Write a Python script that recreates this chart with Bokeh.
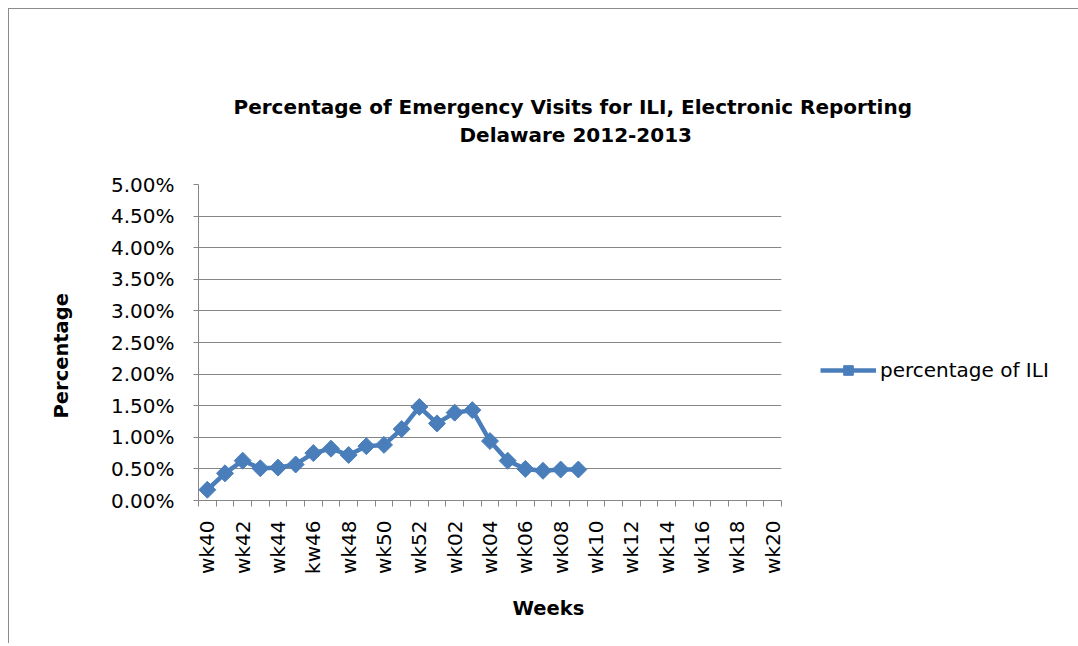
import numpy as np
from bokeh.plotting import figure
from bokeh.models import (FixedTicker, PrintfTickFormatter, Title, Legend, LegendItem,
                          Range1d, ColumnDataSource)
from bokeh.embed import file_html
from bokeh.resources import INLINE

# ---------------- data ----------------
weeks = ["wk40", "wk41", "wk42", "wk43", "wk44", "wk45", "wk46", "wk47", "wk48", "wk49",
         "wk50", "wk51", "wk52", "wk01", "wk02", "wk03", "wk04", "wk05", "wk06", "wk07",
         "wk08", "wk09", "wk10", "wk11", "wk12", "wk13", "wk14", "wk15", "wk16", "wk17",
         "wk18", "wk19", "wk20"]
tick_labels = ["wk40", "wk42", "wk44", "kw46", "wk48", "wk50", "wk52", "wk02", "wk04",
               "wk06", "wk08", "wk10", "wk12", "wk14", "wk16", "wk18", "wk20"]
series_weeks = ["wk40", "wk41", "wk42", "wk43", "wk44", "wk45", "wk46", "wk47", "wk48",
                "wk49", "wk50", "wk51", "wk52", "wk01", "wk02", "wk03", "wk04", "wk05",
                "wk06", "wk07", "wk08", "wk09"]
ili_pct = [0.17, 0.43, 0.63, 0.51, 0.52, 0.57, 0.75, 0.82, 0.72, 0.86, 0.88,
           1.13, 1.48, 1.22, 1.39, 1.43, 0.94, 0.63, 0.50, 0.47, 0.49, 0.49]
y_ticks = [0.0, 0.5, 1.0, 1.5, 2.0, 2.5, 3.0, 3.5, 4.0, 4.5, 5.0]
title_lines = ["Percentage of Emergency Visits for ILI, Electronic Reporting",
               "Delaware 2012-2013"]
x_title = "Weeks"
y_title = "Percentage"
series_name = "percentage of ILI"

# ---------------- styling ----------------
BLUE = "#4A7EBB"
GRAY = "#868686"
FONT = "DejaVu Sans"

x_pos = [weeks.index(w) + 0.5 for w in series_weeks]
src = ColumnDataSource(dict(x=x_pos, y=ili_pct))

p = figure(frame_width=583, frame_height=316, output_backend="svg", toolbar_location=None,
           x_range=Range1d(0, len(weeks)), y_range=Range1d(0, 5.0),
           min_border_left=189, min_border_top=175, min_border_right=294, min_border_bottom=143,
           title=None)
p.outline_line_color = None
p.background_fill_color = "white"
p.border_fill_color = "white"
p.styles = {"margin-left": "8px", "margin-top": "8px",
            "border-left": "1px solid #8c8c8c", "border-top": "1px solid #8c8c8c"}

# grid
p.xgrid.visible = False
p.ygrid.ticker = FixedTicker(ticks=y_ticks)
p.ygrid.grid_line_color = GRAY
p.ygrid.grid_line_width = 1

# y axis
ya = p.yaxis[0]
ya.ticker = FixedTicker(ticks=y_ticks)
ya.formatter = PrintfTickFormatter(format="%.2f%%")
ya.axis_line_color = GRAY
ya.major_tick_line_color = GRAY
ya.major_tick_out = 5
ya.major_tick_in = 0
ya.minor_tick_line_color = None
ya.major_label_text_font = FONT
ya.major_label_text_font_size = "20px"
ya.major_label_text_color = "black"
ya.major_label_standoff = 19

# x axis
xa = p.xaxis[0]
centers = [weeks.index(w) + 0.5 for w in weeks[::2]]
xa.ticker = FixedTicker(ticks=centers, minor_ticks=list(range(len(weeks) + 1)))
xa.major_label_overrides = {c: lab for c, lab in zip(centers, tick_labels)}
xa.major_label_orientation = np.pi / 2
xa.axis_line_color = GRAY
xa.major_tick_line_color = None
xa.major_tick_out = 0
xa.major_tick_in = 0
xa.minor_tick_line_color = GRAY
xa.minor_tick_out = 6
xa.minor_tick_in = 0
xa.major_label_text_font = FONT
xa.major_label_text_font_size = "20px"
xa.major_label_text_color = "black"
xa.major_label_standoff = 14

# series
line_r = p.line("x", "y", source=src, line_color=BLUE, line_width=4.5)
mark_r = p.scatter("x", "y", source=src, marker="square", angle=np.pi / 4, size=12,
                   fill_color=BLUE, line_color=BLUE)

legend = Legend(items=[LegendItem(label=series_name, renderers=[line_r, mark_r])],
                location=(39, 118), border_line_color=None, background_fill_alpha=0,
                padding=0, margin=20, glyph_width=56, glyph_height=24, label_standoff=4,
                label_text_font=FONT, label_text_font_size="20px", label_text_color="black")
p.add_layout(legend, "right")

# titles (first added = closest to the frame)
p.add_layout(Title(text=" ", text_font_size="10px", standoff=25), "above")
p.add_layout(Title(text=title_lines[1], align="left", offset=261, standoff=0,
                   text_font=FONT, text_font_size="20px", text_font_style="bold",
                   text_color="black"), "above")
p.add_layout(Title(text=title_lines[0], align="left", offset=35, standoff=4,
                   text_font=FONT, text_font_size="20px", text_font_style="bold",
                   text_color="black"), "above")

# axis titles
p.add_layout(Title(text=x_title, align="left", offset=314, standoff=37,
                   text_font=FONT, text_font_size="19.5px", text_font_style="bold",
                   text_color="black"), "below")
p.add_layout(Title(text=y_title, align="left", offset=82, standoff=70,
                   text_font=FONT, text_font_size="19.5px", text_font_style="bold",
                   text_color="black"), "left")

open("out.html", "w").write(file_html(p, INLINE))
